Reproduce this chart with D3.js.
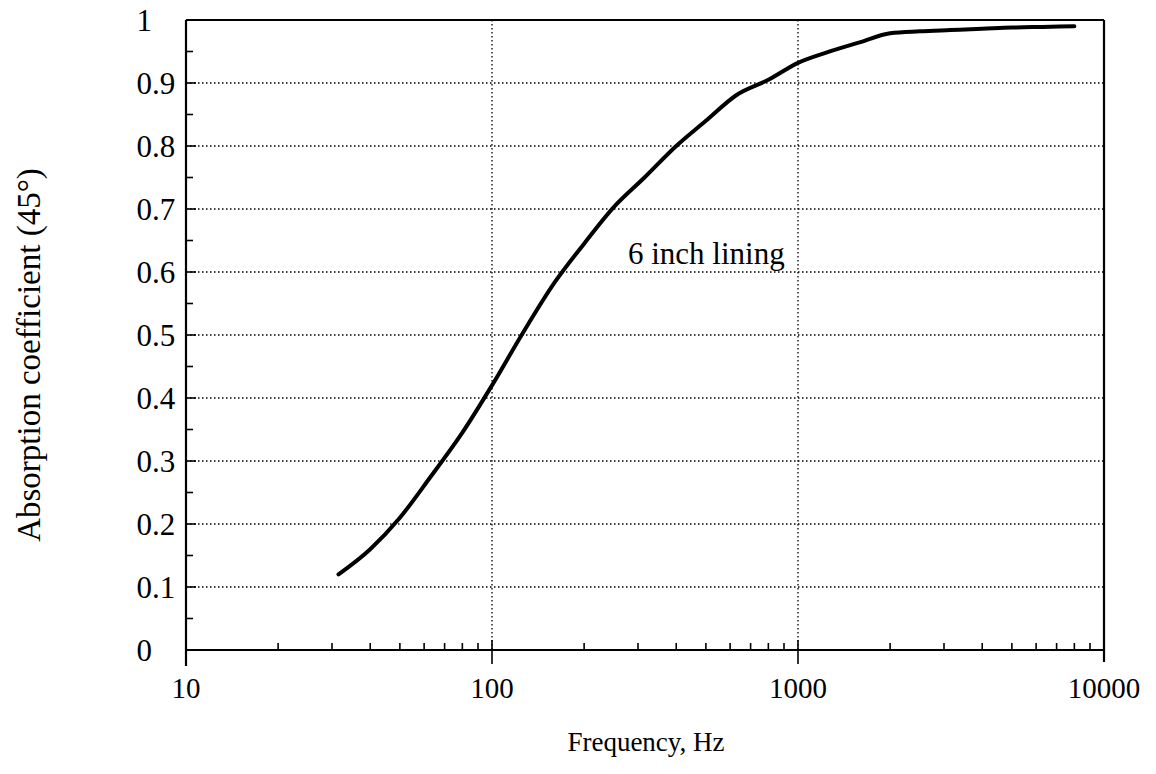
<!DOCTYPE html>
<html>
<head>
<meta charset="utf-8">
<script src="https://cdn.jsdelivr.net/npm/d3@7"></script>
<style>
  body { margin: 0; background: #fff; }
  svg text { font-family: "Liberation Serif", "DejaVu Serif", serif; fill: #000; }
</style>
</head>
<body>
<svg width="1156" height="774"></svg>
<script>
// 1/3-octave band centres and absorption coefficient
const freqs = [31.5, 40, 50, 63, 80, 100, 125, 160, 200, 250, 315, 400, 500, 630, 800,
               1000, 1250, 1600, 2000, 2500, 3150, 4000, 5000, 6300, 8000];
const alpha = [0.12, 0.16, 0.21, 0.275, 0.345, 0.42, 0.50, 0.583, 0.645, 0.703, 0.75, 0.80, 0.84, 0.881, 0.905,
               0.932, 0.949, 0.965, 0.979, 0.982, 0.984, 0.986, 0.988, 0.989, 0.99];
const xMajor = [10, 100, 1000, 10000];
const yMajor = [0, 0.1, 0.2, 0.3, 0.4, 0.5, 0.6, 0.7, 0.8, 0.9, 1];
const curveLabel = "6 inch lining";

const svg = d3.select("svg");
const plotL = 186, plotR = 1104, plotT = 20, plotB = 650;

const x = d3.scaleLog().domain([10, 10000]).range([plotL, plotR]);
const y = d3.scaleLinear().domain([0, 1]).range([plotB, plotT]);

// minor ticks: 2..9 of every decade, and halfway steps on y
const xMinor = [];
[10, 100, 1000].forEach(d => { for (let k = 2; k <= 9; k++) xMinor.push(d * k); });
const yMinor = d3.range(0.05, 1, 0.1);

// --- gridlines (dotted) ---
const grid = svg.append("g")
  .attr("stroke", "#000").attr("stroke-width", 1.3).attr("stroke-dasharray", "1.5,2.5");
grid.selectAll("line.h")
  .data(yMajor.filter(v => v > 0 && v < 1))
  .join("line").attr("class", "h")
  .attr("x1", plotL).attr("x2", plotR)
  .attr("y1", d => y(d)).attr("y2", d => y(d));
grid.selectAll("line.v")
  .data(xMajor.filter(v => v > 10 && v < 10000))
  .join("line").attr("class", "v")
  .attr("y1", plotT).attr("y2", plotB)
  .attr("x1", d => x(d)).attr("x2", d => x(d));

// --- frame ---
const frame = svg.append("g").attr("stroke", "#000").attr("stroke-width", 2.2).attr("fill", "none");
frame.append("line").attr("x1", plotL).attr("x2", plotR).attr("y1", plotT).attr("y2", plotT);
frame.append("line").attr("x1", plotR).attr("x2", plotR).attr("y1", plotT).attr("y2", plotB + 12);
frame.append("line").attr("x1", plotL).attr("x2", plotL).attr("y1", plotT).attr("y2", plotB + 16);
frame.append("line").attr("x1", plotL).attr("x2", plotR).attr("y1", plotB).attr("y2", plotB);

// --- x axis ticks ---
const ticks = svg.append("g").attr("stroke", "#000").attr("stroke-width", 1.6);
ticks.selectAll("line.xm")
  .data(xMinor).join("line").attr("class", "xm")
  .attr("x1", d => x(d)).attr("x2", d => x(d))
  .attr("y1", plotB).attr("y2", plotB - 7);
ticks.selectAll("line.xM")
  .data(xMajor.filter(v => v > 10 && v < 10000)).join("line").attr("class", "xM")
  .attr("x1", d => x(d)).attr("x2", d => x(d))
  .attr("y1", plotB - 10).attr("y2", plotB + 14);

// --- y axis ticks ---
ticks.selectAll("line.yM")
  .data(yMajor.filter(v => v > 0 && v < 1)).join("line").attr("class", "yM")
  .attr("x1", plotL).attr("x2", plotL + 10)
  .attr("y1", d => y(d)).attr("y2", d => y(d));
ticks.selectAll("line.ym")
  .data(yMinor).join("line").attr("class", "ym")
  .attr("x1", plotL).attr("x2", plotL + 7)
  .attr("y1", d => y(d)).attr("y2", d => y(d));

// --- tick labels ---
svg.append("g").selectAll("text")
  .data(xMajor).join("text")
  .attr("x", d => x(d)).attr("y", plotB + 48)
  .attr("text-anchor", "middle").attr("font-size", 29)
  .text(d => d);

// y labels are aligned on the decimal point
const decX = 152;
const yLab = svg.append("g").selectAll("g")
  .data(yMajor).join("g")
  .attr("transform", d => `translate(${decX},${y(d)})`);
yLab.append("text")
  .attr("text-anchor", "end").attr("dy", "0.35em").attr("font-size", 31)
  .text(d => String(Math.floor(d)));
yLab.append("text")
  .attr("text-anchor", "start").attr("dy", "0.35em").attr("font-size", 31)
  .text(d => d % 1 ? "." + d3.format(".1f")(d).split(".")[1] : "");

// --- axis titles ---
svg.append("text")
  .attr("x", 646).attr("y", 751)
  .attr("text-anchor", "middle").attr("font-size", 27)
  .text("Frequency, Hz");
svg.append("text")
  .attr("transform", `translate(40,${(plotT + plotB) / 2 + 20}) rotate(-90)`)
  .attr("text-anchor", "middle").attr("font-size", 33)
  .text("Absorption coefficient (45°)");

// --- curve ---
const line = d3.line().x((d, i) => x(freqs[i])).y(d => y(d)).curve(d3.curveMonotoneX);
svg.append("path")
  .datum(alpha)
  .attr("fill", "none").attr("stroke", "#000").attr("stroke-width", 4)
  .attr("stroke-linejoin", "round").attr("stroke-linecap", "round")
  .attr("d", line);

svg.append("text")
  .attr("x", 628).attr("y", 264).attr("font-size", 31)
  .text(curveLabel);
</script>
</body>
</html>
